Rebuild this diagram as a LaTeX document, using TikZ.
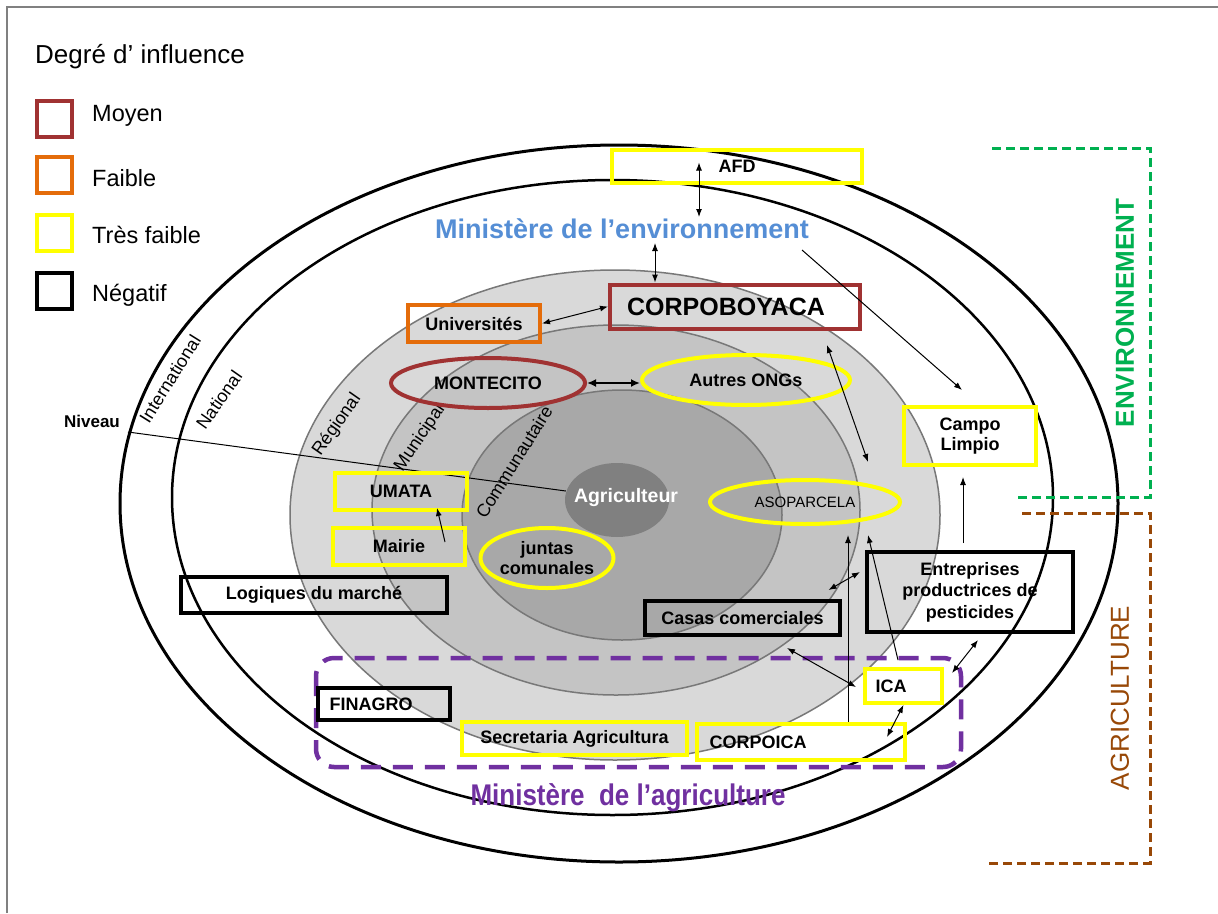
\documentclass[tikz,border=0pt]{standalone}
\usepackage{fontspec}
\setmainfont{Liberation Sans}
\usetikzlibrary{arrows.meta,shapes.geometric}
\definecolor{dred}{RGB}{160,50,50}
\definecolor{orng}{RGB}{228,108,10}
\definecolor{ylw}{RGB}{255,255,0}
\definecolor{envblue}{RGB}{85,142,213}
\definecolor{purp}{RGB}{112,48,160}
\definecolor{envgreen}{RGB}{0,176,80}
\definecolor{agbrown}{RGB}{152,72,7}
\definecolor{ringR}{RGB}{217,217,217}
\definecolor{ringM}{RGB}{196,196,196}
\definecolor{ringC}{RGB}{168,168,168}
\definecolor{ringA}{RGB}{128,128,128}
\definecolor{ringline}{RGB}{120,120,120}
\newcommand\fsz[2]{\fontsize{#1}{#2}\selectfont}
\begin{document}
\begin{tikzpicture}[x=1pt,y=-1pt,
  box/.style={draw, rectangle, line width=4pt, inner sep=0pt, font=\fsz{18}{21.5}\bfseries, align=center},
  ybox/.style={box, draw=ylw},
  kbox/.style={box, draw=black},
  rbox/.style={box, draw=dred},
  obox/.style={box, draw=orng},
  oval/.style={draw, ellipse, line width=4pt, inner sep=0pt, font=\fsz{18}{20}\bfseries, align=center},
  lvl/.style={font=\fsz{18}{20}, inner sep=0pt},
  conn/.style={line width=1pt, {Latex[length=8pt,width=6pt]}-{Latex[length=8pt,width=6pt]}},
  oneway/.style={line width=1pt, -{Latex[length=8pt,width=6pt]}},
  legsq/.style={draw, rectangle, line width=4pt, minimum width=35pt, minimum height=36pt, inner sep=0pt},
  legtx/.style={anchor=base west, font=\fsz{23.5}{26}, inner sep=0pt},
  ring/.style={draw=ringline, line width=1.5pt},
]
\useasboundingbox (0,0) rectangle (1218,913);
\fill[white] (0,0) rectangle (1218,913);
\draw[gray, line width=2pt] (7,913) -- (7,7) -- (1218,7);

% levels
\draw[line width=3pt] (619,503.5) ellipse [x radius=499pt, y radius=358.5pt];
\draw[line width=2.5pt] (612.5,497.5) ellipse [x radius=440.5pt, y radius=317.5pt];
\filldraw[ring, fill=ringR] (615,515) ellipse [x radius=325pt, y radius=245pt];
\filldraw[ring, fill=ringM] (616,510) ellipse [x radius=244pt, y radius=185pt];
\filldraw[ring, fill=ringC] (622,515) ellipse [x radius=160pt, y radius=125pt];
\node[ellipse, fill=ringA, minimum width=104pt, minimum height=74pt, inner sep=0pt] (agri) at (617,500) {};

\node[lvl, rotate=58] (lint) at (170,379) {International};
\node[lvl, rotate=55] (lnat) at (219,400) {National};
\node[lvl, rotate=55] (lreg) at (337,425) {Régional};
\node[lvl, rotate=56] (lmun) at (420,438) {Municipal};
\node[lvl, rotate=58] (lcom) at (514,462) {Communautaire};

\node[font=\fsz{17}{20}\bfseries, inner sep=0pt] (niv) at (92,421) {Niveau};
\draw[line width=1pt] ([shift={(36,11)}]niv.center) -- ([shift={(1,-9)}]agri.west);
\node[font=\fsz{19.5}{22}\bfseries, text=white, inner sep=0pt] (agrit) at (626,497) {Agriculteur};

% legend
\node[font=\fsz{26}{28}, anchor=base west, inner sep=0pt] (legtitle) at (35,63) {Degré d’ influence};
\node[legsq, draw=dred] (sq1) at (54.5,118.5) {};
\node[legtx] (t1) at (92,121.5) {Moyen};
\node[legsq, draw=orng] (sq2) at (54.5,175) {};
\node[legtx] (t2) at (92,186.5) {Faible};
\node[legsq, draw=ylw] (sq3) at (54.5,232.5) {};
\node[legtx] (t3) at (92,243) {Très faible};
\node[legsq, draw=black] (sq4) at (54.5,290.5) {};
\node[legtx] (t4) at (92,301.5) {Négatif};

% ministries
\node[font=\fsz{27}{30}\bfseries, text=envblue, inner sep=0pt] (minenv) at (622,229) {Ministère de l’environnement};
\draw[purp, line width=4.5pt, dash pattern=on 20pt off 12pt, rounded corners=18pt] (316,658) rectangle (961,767);
\node[font=\fsz{26}{28}\bfseries, text=purp, inner sep=0pt] (minagr) at (628,798) {\scalebox{1}[1.15]{Ministère\ \ de l’agriculture}};

% actors
\node[ybox, minimum width=250pt, minimum height=33pt] (afd) at (737,166.5) {AFD};
\node[rbox, minimum width=250pt, minimum height=44pt, font=\fsz{25}{28}\bfseries] (corpo) at (735,306.5) {CORPOBOYACA\hspace*{18pt}};
\node[obox, minimum width=132pt, minimum height=37pt] (univ) at (474,323.5) {Universités};
\node[oval, draw=dred, minimum width=194pt, minimum height=50pt] (monte) at (488,383) {MONTECITO};
\node[oval, draw=ylw, minimum width=208pt, minimum height=50pt] (ongs) at (746,380) {Autres ONGs};
\node[oval, draw=ylw, minimum width=190pt, minimum height=44pt, font=\fsz{15}{18}] (asop) at (805,502) {ASOPARCELA};
\node[ybox, minimum width=132pt, minimum height=37pt] (umata) at (401,491.5) {UMATA};
\node[ybox, minimum width=132pt, minimum height=37pt] (mairie) at (399,546.5) {Mairie};
\node[oval, draw=ylw, minimum width=128pt, minimum height=60pt] (juntas) at (547,558) {juntas\\comunales};
\node[kbox, minimum width=266pt, minimum height=36pt] (logi) at (314,595) {Logiques du marché};
\node[kbox, minimum width=195pt, minimum height=34pt] (casas) at (742.5,618) {Casas comerciales};
\node[kbox, minimum width=206pt, minimum height=80pt] (entre) at (970,592) {Entreprises\\productrices de\\pesticides};
\node[ybox, minimum width=132pt, minimum height=58pt, font=\fsz{18}{20}\bfseries] (campo) at (970,436) {Campo\\Limpio};
\node[ybox, minimum width=77pt, minimum height=34pt] (ica) at (903.5,686) {ICA\hspace*{25pt}};
\node[ybox, minimum width=208pt, minimum height=36pt] (corpoica) at (801,742) {CORPOICA\hspace*{86pt}};
\node[ybox, minimum width=225pt, minimum height=33pt] (secre) at (574.5,738.5) {Secretaria Agricultura};
\node[kbox, minimum width=132pt, minimum height=32pt] (finagro) at (384,704) {FINAGRO\hspace*{26pt}};

% connectors
\draw[conn] ([shift={(-38,-4)}]afd.center) -- ([shift={(77,-12)}]minenv.center);
\draw[conn] ([shift={(33,14)}]minenv.center) -- ([shift={(-80,-24)}]corpo.center);
\draw[conn] (univ.east) -- (corpo.west);
\draw[line width=2pt, {Latex[length=9pt,width=8pt]}-{Latex[length=9pt,width=8pt]}] (monte.east) -- (monte.east -| ongs.west);
\draw[conn] ([shift={(92,38.5)}]corpo.center) -- ([shift={(63,-40)}]asop.center);
\draw[oneway] ([shift={(180,21)}]minenv.center) -- ([shift={(-8,-15)}]campo.north);
\draw[oneway] ([shift={(-7,-7)}]entre.north) -- ([shift={(-7,10)}]campo.south);
\draw[conn] ([shift={(86,-28)}]casas.center) -- ([shift={(-5,-20)}]entre.west);
\draw[oneway] ([shift={(47,-20)}]corpoica.center) -- ([shift={(43,33)}]asop.center);
\draw[oneway] ([shift={(-5.5,-7)}]ica.north) -- ([shift={(63,33)}]asop.center);
\draw[conn] ([shift={(44.5,30)}]casas.center) -- ([shift={(-7,1)}]ica.west);
\draw[conn] ([shift={(0,19)}]ica.center) -- ([shift={(86,-5)}]corpoica.center);
\draw[conn] ([shift={(48.5,-13)}]ica.center) -- ([shift={(8,6)}]entre.south);
\draw[oneway] ([shift={(46,-4.5)}]mairie.center) -- ([shift={(36,16.5)}]umata.center);

% sectors
\draw[envgreen, line width=3pt, dash pattern=on 9pt off 5pt] (992,148) -- (1150,148) -- (1150,497) -- (1018,497);
\node[rotate=90, text=envgreen, font=\fsz{26}{28}\bfseries, inner sep=0pt] (envlab) at (1125,313) {ENVIRONNEMENT};
\draw[agbrown, line width=3pt, dash pattern=on 9pt off 5pt] (1022,513) -- (1150,513) -- (1150,863) -- (987,863);
\node[rotate=90, text=agbrown, font=\fsz{26}{28}, inner sep=0pt] (aglab) at (1120,698) {AGRICULTURE};
\end{tikzpicture}
\end{document}
